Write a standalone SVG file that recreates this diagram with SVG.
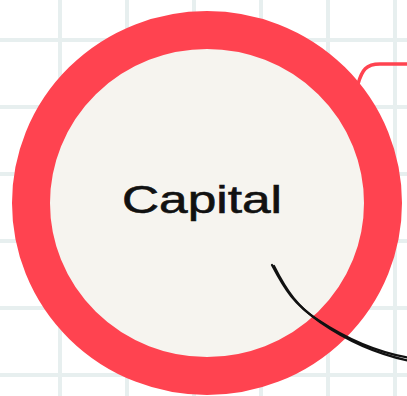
<svg xmlns="http://www.w3.org/2000/svg" width="407" height="396" viewBox="0 0 407 396">
<style>
.grid line{stroke:#e7efef;stroke-width:4}
.ring{fill:#f6f4ef;stroke:#ff4350;stroke-width:38}
.lbl{font-family:"Liberation Sans",Arial,sans-serif;font-size:39px;fill:#111;stroke:#111;stroke-width:0.6}
.conn-red{fill:none;stroke:#ff4350;stroke-width:3.5;stroke-linecap:round}
.conn-black{fill:none;stroke:#111;stroke-width:2.2;stroke-linecap:round}
</style>
<rect width="407" height="396" fill="#ffffff"/>
<g class="grid">
<line x1="60" y1="0" x2="60" y2="396"/>
<line x1="127" y1="0" x2="127" y2="396"/>
<line x1="194" y1="0" x2="194" y2="396"/>
<line x1="261" y1="0" x2="261" y2="396"/>
<line x1="328" y1="0" x2="328" y2="396"/>
<line x1="395" y1="0" x2="395" y2="396"/>
<line x1="0" y1="40" x2="407" y2="40"/>
<line x1="0" y1="107" x2="407" y2="107"/>
<line x1="0" y1="174" x2="407" y2="174"/>
<line x1="0" y1="241" x2="407" y2="241"/>
<line x1="0" y1="308" x2="407" y2="308"/>
<line x1="0" y1="375" x2="407" y2="375"/>
</g>
<g id="connectors">
<path class="conn-red" d="M358 84 C362 70 366 64 380 64 L410 64"/>
</g>
<g id="node-capital">
<ellipse class="ring" cx="207" cy="203" rx="176" ry="173"/>
<text class="lbl" x="202" y="213" text-anchor="middle" textLength="160" lengthAdjust="spacingAndGlyphs">Capital</text>
</g>
<g id="connectors-top">
<path class="conn-black" d="M272 265 C285 290 295 305 318 320 C345 338 375 352 410 358"/>
<path class="conn-black" d="M274 266 C287 292 298 307 320 322 C346 340 376 354 410 361"/>
</g>
</svg>
